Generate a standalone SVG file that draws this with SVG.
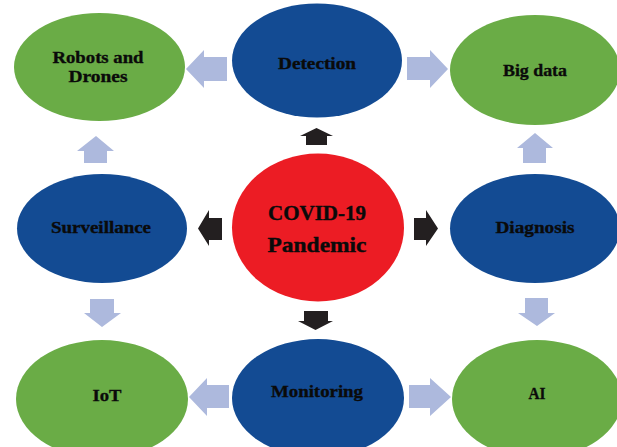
<svg xmlns="http://www.w3.org/2000/svg" width="617" height="447" viewBox="0 0 617 447">
  <style>
    .green { fill: #6aac46; }
    .blue { fill: #134b93; }
    .red { fill: #ec1c24; }
    .flow { fill: #adb9dd; }
    .push { fill: #231f20; }
    .label { font-family: "Liberation Serif", "DejaVu Serif", serif; font-weight: bold; font-size: 17.5px; fill: #0a0a0a; stroke: #0a0a0a; stroke-width: 0.35; text-anchor: middle; }
    .title { font-size: 22px; stroke-width: 0.4; }
  </style>
  <rect width="617" height="447" fill="#ffffff"/>

  <!-- connectors: black arrows from the centre, light arrows between topics -->
  <g id="connectors">
    <polygon class="push" points="306,145 306,136 300,136 316.5,128 333,136 327,136 327,145"/>
    <polygon class="push" points="304,311 304,321 298,321 315.5,330 333,321 328,321 328,311"/>
    <polygon class="push" points="222,218 209,218 209,210 198,228.5 209,246 209,240 222,240"/>
    <polygon class="push" points="414,218 426,218 426,210 438,228.5 426,246 426,240 414,240"/>

    <polygon class="flow" points="227,57 204,57 204,50 186,69 204,88 204,81 227,81"/>
    <polygon class="flow" points="407,57 430,57 430,50 448,69 430,88 430,80 407,80"/>
    <polygon class="flow" points="523,163 523,148 517,148 535,133 553,148 546,148 546,163"/>
    <polygon class="flow" points="84,163 84,151 77,151 96,136 114,151 107,151 107,163"/>
    <polygon class="flow" points="90,299 90,313 84,313 102,327 121,313 114,313 114,299"/>
    <polygon class="flow" points="525,298 525,313 518,313 537,326 555,313 548,313 548,298"/>
    <polygon class="flow" points="229,385 207,385 207,378 189,397 207,416 207,408 229,408"/>
    <polygon class="flow" points="409,385 430,385 430,378 451,397 430,416 430,408 409,408"/>
  </g>

  <g id="covid">
    <ellipse class="red" cx="318" cy="227.5" rx="86" ry="74"/>
    <text class="label title" x="317" y="220" textLength="98" lengthAdjust="spacingAndGlyphs">COVID-19</text>
    <text class="label title" x="317" y="252" textLength="99" lengthAdjust="spacingAndGlyphs">Pandemic</text>
  </g>

  <g id="robots">
    <ellipse class="green" cx="99.5" cy="67" rx="85.5" ry="54"/>
    <text class="label" x="98" y="63" textLength="91" lengthAdjust="spacingAndGlyphs">Robots and</text>
    <text class="label" x="98" y="82" textLength="59" lengthAdjust="spacingAndGlyphs">Drones</text>
  </g>

  <g id="detection">
    <ellipse class="blue" cx="317" cy="60.5" rx="85" ry="57"/>
    <text class="label" x="317" y="69" textLength="78" lengthAdjust="spacingAndGlyphs">Detection</text>
  </g>

  <g id="bigdata">
    <ellipse class="green" cx="535" cy="70" rx="85" ry="55"/>
    <text class="label" x="535" y="76" textLength="64" lengthAdjust="spacingAndGlyphs">Big data</text>
  </g>

  <g id="surveillance">
    <ellipse class="blue" cx="102" cy="228.5" rx="85" ry="54.5"/>
    <text class="label" x="101" y="233" textLength="100" lengthAdjust="spacingAndGlyphs">Surveillance</text>
  </g>

  <g id="diagnosis">
    <ellipse class="blue" cx="535" cy="228.5" rx="85" ry="54.5"/>
    <text class="label" x="535" y="233" textLength="79" lengthAdjust="spacingAndGlyphs">Diagnosis</text>
  </g>

  <g id="iot">
    <ellipse class="green" cx="102" cy="399" rx="86" ry="59"/>
    <text class="label" x="107" y="401" textLength="29" lengthAdjust="spacingAndGlyphs">IoT</text>
  </g>

  <g id="monitoring">
    <ellipse class="blue" cx="318" cy="398" rx="86" ry="59"/>
    <text class="label" x="317" y="397" textLength="92" lengthAdjust="spacingAndGlyphs">Monitoring</text>
  </g>

  <g id="ai">
    <ellipse class="green" cx="537" cy="399" rx="85" ry="59"/>
    <text class="label" x="537" y="399" textLength="17" lengthAdjust="spacingAndGlyphs">AI</text>
  </g>
</svg>
